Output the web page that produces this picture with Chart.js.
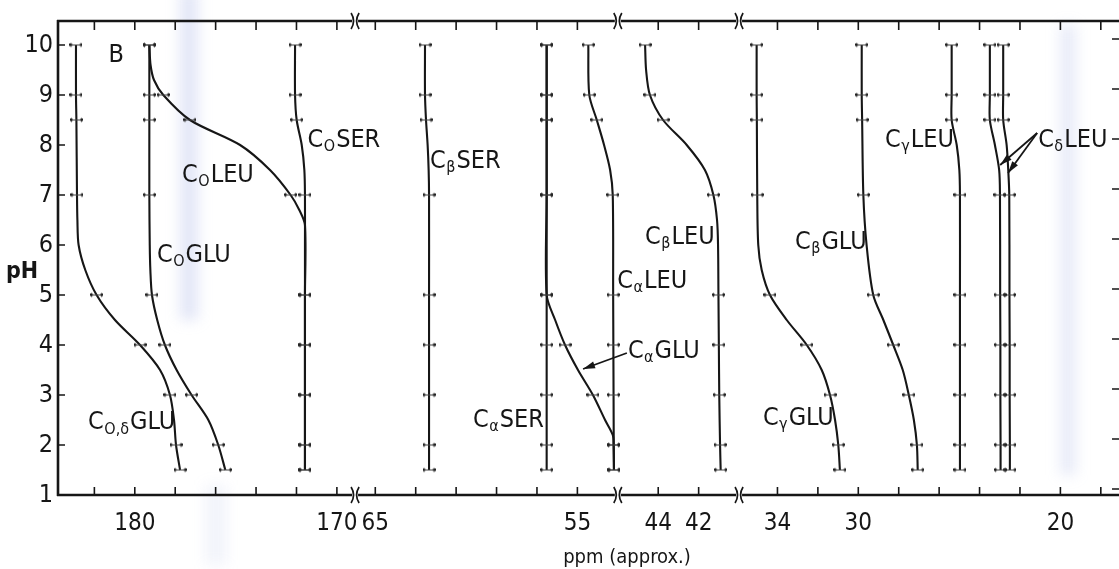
<!DOCTYPE html>
<html>
<head>
<meta charset="utf-8">
<script src="https://cdn.jsdelivr.net/npm/chart.js@4/dist/chart.umd.min.js"></script>
<style>
html,body{margin:0;padding:0;background:#fff;}
#wrap{position:relative;width:1119px;height:569px;}
</style>
</head>
<body>
<div id="wrap"><canvas id="c" width="1119" height="569"></canvas></div>
<script>
// ---------------- broken ppm axis ----------------
const axisSegments = [[183.8, 169.1], [66, 53], [46, 40], [35.9, 17.1]];
const xLabelTicks = [180, 170, 65, 55, 44, 42, 34, 30, 20];
const xMinorTicks = [182, 180, 178, 176, 174, 172, 170, 65, 63, 61, 59, 57, 55, 44, 42, 34, 32, 30, 28, 26, 24, 22, 20, 18];
const yTicks = [1, 2, 3, 4, 5, 6, 7, 8, 9, 10];
const measuredPH = [10, 9, 8.5, 7, 5, 4, 3, 2, 1.5];

// ---------------- series (pH, ppm) ----------------
const cOdGLU_pH  = [10, 9, 8.5, 7, 6.5, 6, 5.5, 5, 4.5, 4, 3.5, 3, 2.5, 2, 1.5];
const cOdGLU_ppm = [182.91, 182.91, 182.89, 182.86, 182.84, 182.78, 182.45, 181.89, 180.98, 179.74, 178.75, 178.26, 178.06, 177.96, 177.76];
const cOGLU_pH  = [10, 9, 8.5, 7, 6, 5.5, 5, 4.5, 4, 3.5, 3, 2.5, 2, 1.5];
const cOGLU_ppm = [179.28, 179.28, 179.28, 179.28, 179.26, 179.23, 179.15, 178.89, 178.51, 177.93, 177.19, 176.36, 175.87, 175.52];
const cOLEU_pH  = [10, 9.6, 9.3, 9, 8.5, 8, 7.5, 7, 6.7, 6.4, 5, 4, 3, 2, 1.5];
const cOLEU_ppm = [179.28, 179.22, 179.05, 178.59, 177.27, 174.79, 173.31, 172.29, 171.86, 171.58, 171.58, 171.58, 171.58, 171.58, 171.58];
const cOSER_pH  = [10, 9, 8.5, 8, 7.5, 7, 6, 5, 4, 3, 2, 1.5];
const cOSER_ppm = [172.07, 172.07, 171.99, 171.74, 171.61, 171.58, 171.58, 171.58, 171.58, 171.58, 171.58, 171.58];
const cbSER_pH  = [10, 9, 8.5, 8, 7.5, 7, 5, 4, 3, 2, 1.5];
const cbSER_ppm = [62.54, 62.54, 62.49, 62.41, 62.36, 62.34, 62.34, 62.34, 62.34, 62.34, 62.34];
const caSER_pH  = [10, 9, 8.5, 7, 5, 4, 3, 2, 1.5];
const caSER_ppm = [56.52, 56.52, 56.52, 56.52, 56.52, 56.52, 56.52, 56.52, 56.52];
const caGLU_pH  = [10, 9, 8.5, 7, 5, 4.5, 4, 3.5, 3, 2.5, 2.2, 2, 1.5];
const caGLU_ppm = [56.52, 56.52, 56.52, 56.52, 56.52, 56.1, 55.61, 54.97, 54.23, 53.63, 53.25, 53.21, 53.19];
const caLEU_pH  = [10, 9, 8.5, 8, 7.5, 7, 5, 4, 3, 2, 1.5];
const caLEU_ppm = [54.46, 54.41, 54.04, 53.68, 53.38, 53.25, 53.23, 53.22, 53.21, 53.2, 53.19];
const cbLEU_pH  = [10, 9.5, 9, 8.5, 8, 7.5, 7, 6.5, 6, 5, 4, 3, 2, 1.5];
const cbLEU_ppm = [44.65, 44.6, 44.41, 43.76, 42.59, 41.69, 41.27, 41.09, 41.04, 41.02, 41.0, 40.98, 40.94, 40.91];
const cgGLU_pH  = [10, 9, 8.5, 7, 6, 5.5, 5, 4.5, 4, 3.5, 3, 2.5, 2, 1.5];
const cgGLU_ppm = [35.03, 35.03, 35.02, 35.0, 34.95, 34.78, 34.37, 33.54, 32.55, 31.81, 31.4, 31.15, 30.99, 30.91];
const cbGLU_pH  = [10, 9, 8.5, 7, 6, 5, 4.5, 4, 3.5, 3, 2.5, 2, 1.5];
const cbGLU_ppm = [29.83, 29.83, 29.81, 29.75, 29.59, 29.26, 28.76, 28.27, 27.8, 27.5, 27.25, 27.1, 27.06];
const cgLEU_pH  = [10, 9, 8.5, 8, 7.5, 7, 5, 4, 3, 2, 1.5];
const cgLEU_ppm = [25.38, 25.38, 25.38, 25.13, 25.0, 24.97, 24.97, 24.97, 24.97, 24.97, 24.97];
const cdLEUa_pH  = [10, 9, 8.5, 8, 7.5, 7, 5, 4, 3, 2, 1.5];
const cdLEUa_ppm = [23.49, 23.49, 23.49, 23.24, 23.03, 22.99, 22.98, 22.97, 22.97, 22.96, 22.96];
const cdLEUb_pH  = [10, 9, 8.5, 8, 7.5, 7, 5, 4, 3, 2, 1.5];
const cdLEUb_ppm = [22.83, 22.83, 22.83, 22.66, 22.58, 22.53, 22.52, 22.51, 22.51, 22.5, 22.5];

const seriesNames = ['CO,δGLU', 'COGLU', 'COLEU', 'COSER', 'CβSER', 'CαSER', 'CαGLU', 'CαLEU', 'CβLEU', 'CγGLU', 'CβGLU', 'CγLEU', 'CδLEU', 'CδLEU'];
const seriesPH  = [cOdGLU_pH, cOGLU_pH, cOLEU_pH, cOSER_pH, cbSER_pH, caSER_pH, caGLU_pH, caLEU_pH, cbLEU_pH, cgGLU_pH, cbGLU_pH, cgLEU_pH, cdLEUa_pH, cdLEUb_pH];
const seriesPPM = [cOdGLU_ppm, cOGLU_ppm, cOLEU_ppm, cOSER_ppm, cbSER_ppm, caSER_ppm, caGLU_ppm, caLEU_ppm, cbLEU_ppm, cgGLU_ppm, cbGLU_ppm, cgLEU_ppm, cdLEUa_ppm, cdLEUb_ppm];

// ---------------- curve labels: C + subscript + residue ----------------
const labelSub  = ['O,δ', 'O', 'O', 'O', 'β', 'α', 'α', 'α', 'β', 'γ', 'β', 'γ', 'δ'];
const labelRes  = ['GLU', 'GLU', 'LEU', 'SER', 'SER', 'SER', 'GLU', 'LEU', 'LEU', 'GLU', 'GLU', 'LEU', 'LEU'];
const labelPPM  = [182.31, 178.9, 177.66, 171.45, 62.29, 60.16, 45.5, 53.03, 44.65, 34.72, 33.13, 28.68, 21.1];
const labelPH   = [2.45, 5.8, 7.4, 8.1, 7.68, 2.5, 3.88, 5.28, 6.16, 2.54, 6.06, 8.1, 8.1];
// arrows: [fromPPM, fromPH, toPPM, toPH]
const arrows = [[45.55, 3.84, 54.72, 3.52], [21.15, 8.24, 22.98, 7.6], [21.15, 8.24, 22.59, 7.44]];

// ---------------- broken linear scale ----------------
class BrokenLinearScale extends Chart.LinearScale {
  _total() { return axisSegments.reduce((s, g) => s + g[0] - g[1], 0); }
  buildTicks() { return xLabelTicks.map(v => ({ value: v })); }
  getPixelForValue(v) {
    const total = this._total();
    let acc = 0;
    for (const [a, b] of axisSegments) {
      if (v >= b) return this.left + (acc + Math.max(0, a - v)) / total * this.width;
      acc += a - b;
    }
    return this.right;
  }
  getValueForPixel(p) {
    let d = (p - this.left) / this.width * this._total();
    for (const [a, b] of axisSegments) {
      if (d <= a - b) return a - d;
      d -= a - b;
    }
    return axisSegments[axisSegments.length - 1][1];
  }
}
BrokenLinearScale.id = 'brokenLinear';
BrokenLinearScale.defaults = Chart.LinearScale.defaults;
Chart.register(BrokenLinearScale);

// ---------------- marker glyph ----------------
function makeMarker() {
  const m = document.createElement('canvas');
  m.width = 13; m.height = 7;
  const g = m.getContext('2d');
  g.strokeStyle = '#444'; g.lineWidth = 1;
  g.beginPath(); g.moveTo(1.5, 3.5); g.lineTo(11.5, 3.5); g.stroke();
  g.beginPath(); g.moveTo(1.5, 1.5); g.lineTo(1.5, 5.5); g.moveTo(11.5, 1.5); g.lineTo(11.5, 5.5); g.stroke();
  g.fillStyle = '#222';
  g.fillRect(0, 2, 2.5, 2.5); g.fillRect(10.5, 2, 2.5, 2.5);
  return m;
}
const marker = makeMarker();

const FONT = "'DejaVu Sans Condensed', 'Liberation Sans Narrow', 'Liberation Sans', sans-serif";
const INK = '#161616';

const datasets = seriesNames.map((name, i) => ({
  label: name,
  data: seriesPH[i].map((p, k) => ({ x: seriesPPM[i][k], y: p })),
  borderColor: INK,
  borderWidth: 2.1,
  fill: false,
  tension: 0.3,
  pointStyle: marker,
  pointRadius: ctx => (ctx.raw && measuredPH.includes(ctx.raw.y)) ? 5 : 0,
  pointHoverRadius: 0,
  clip: false
}));

// ---------------- decoration plugin ----------------
function breakMark(c, bx, y) {
  c.beginPath();
  c.moveTo(bx - 4, y - 8); c.quadraticCurveTo(bx + 1, y, bx - 4, y + 8);
  c.moveTo(bx + 4, y - 8); c.quadraticCurveTo(bx - 1, y, bx + 4, y + 8);
  c.stroke();
}
function drawLabel(c, x, y, sub, res) {
  c.textBaseline = 'middle'; c.textAlign = 'left';
  c.font = '25px ' + FONT;
  c.fillText('C', x, y);
  let w = c.measureText('C').width;
  c.font = '16px ' + FONT;
  c.fillText(sub, x + w + 0.5, y + 7);
  w += c.measureText(sub).width + 1.5;
  c.font = '25px ' + FONT;
  c.fillText(res, x + w, y);
}

const decor = {
  id: 'decor',
  beforeDraw(chart) {
    const c = chart.ctx;
    c.save();
    c.fillStyle = '#fff';
    c.fillRect(0, 0, chart.width, chart.height);
    c.filter = 'blur(7px)';
    const bands = [[180, -10, 18, 330, 0.28], [1060, 25, 16, 450, 0.22], [205, 485, 22, 80, 0.12]];
    for (const [bx, by, bw, bh, al] of bands) {
      c.fillStyle = 'rgba(150,165,225,' + al + ')';
      c.fillRect(bx, by, bw, bh);
    }
    c.filter = 'none';
    c.restore();
  },
  afterDatasetsDraw(chart) {
    const c = chart.ctx;
    const xs = chart.scales.x, ys = chart.scales.y;
    const { left, right, top, bottom } = chart.chartArea;
    c.save();
    c.strokeStyle = INK; c.fillStyle = INK;
    c.lineCap = 'butt';
    const breaks = axisSegments.slice(0, -1).map(s => xs.getPixelForValue(s[1]));
    c.lineWidth = 2.4;
    for (const yy of [top, bottom]) {
      let x0 = left - 1;
      c.beginPath();
      for (const b of breaks) { c.moveTo(x0, yy); c.lineTo(b - 3, yy); x0 = b + 3; }
      c.moveTo(x0, yy); c.lineTo(right, yy);
      c.stroke();
    }
    c.lineWidth = 1.7;
    for (const b of breaks) { breakMark(c, b, top); breakMark(c, b, bottom); }
    c.lineWidth = 2.6;
    c.beginPath(); c.moveTo(left, top - 1); c.lineTo(left, bottom + 1); c.stroke();
    c.lineWidth = 1.6;
    c.beginPath();
    for (const v of xMinorTicks) {
      const px = xs.getPixelForValue(v);
      c.moveTo(px, bottom); c.lineTo(px, bottom - 8);
      c.moveTo(px, top); c.lineTo(px, top + 9);
    }
    for (const v of yTicks) {
      const py = ys.getPixelForValue(v);
      c.moveTo(left, py); c.lineTo(left + 7, py);
      c.moveTo(right, py - 6); c.lineTo(right - 7, py - 6);
    }
    c.stroke();
    for (let i = 0; i < labelSub.length; i++) {
      drawLabel(c, xs.getPixelForValue(labelPPM[i]), ys.getPixelForValue(labelPH[i]), labelSub[i], labelRes[i]);
    }
    c.lineWidth = 1.8;
    for (const [fx, fy, tx, ty] of arrows) {
      const x1 = xs.getPixelForValue(fx), y1 = ys.getPixelForValue(fy);
      const x2 = xs.getPixelForValue(tx), y2 = ys.getPixelForValue(ty);
      const ang = Math.atan2(y2 - y1, x2 - x1);
      c.beginPath(); c.moveTo(x1, y1); c.lineTo(x2, y2); c.stroke();
      c.beginPath();
      c.moveTo(x2, y2);
      c.lineTo(x2 - 12 * Math.cos(ang) + 3.5 * Math.sin(ang), y2 - 12 * Math.sin(ang) - 3.5 * Math.cos(ang));
      c.lineTo(x2 - 12 * Math.cos(ang) - 3.5 * Math.sin(ang), y2 - 12 * Math.sin(ang) + 3.5 * Math.cos(ang));
      c.closePath(); c.fill();
    }
    c.font = '25px ' + FONT;
    c.textAlign = 'left'; c.textBaseline = 'middle';
    c.fillText('B', xs.getPixelForValue(181.3), ys.getPixelForValue(9.8));
    c.font = 'bold 23px ' + FONT;
    c.textAlign = 'center';
    c.fillText('pH', left - 36, ys.getPixelForValue(5.45));
    c.font = '20px ' + FONT;
    c.textBaseline = 'alphabetic';
    c.fillText('ppm (approx.)', 627, chart.height - 6);
    c.restore();
  }
};

new Chart(document.getElementById('c'), {
  type: 'line',
  data: { datasets },
  plugins: [decor],
  options: {
    indexAxis: 'y',
    responsive: false,
    animation: false,
    events: [],
    layout: { autoPadding: false, padding: { top: 21, right: 0, left: 0, bottom: 0 } },
    plugins: { legend: { display: false }, tooltip: { enabled: false } },
    scales: {
      x: {
        type: 'brokenLinear',
        position: 'bottom',
        min: 17.1, max: 183.8,
        grid: { display: false, drawTicks: false },
        border: { display: false },
        ticks: {
          autoSkip: false, maxRotation: 0, padding: 14,
          color: INK, font: { family: FONT, size: 24 },
          callback: v => String(v)
        },
        afterFit: s => { s.height = 74; s.paddingLeft = 0; s.paddingRight = 0; }
      },
      y: {
        type: 'linear',
        position: 'left',
        min: 1, max: 10.48,
        grid: { display: false, drawTicks: false },
        border: { display: false },
        afterBuildTicks: s => { s.ticks = yTicks.map(v => ({ value: v })); },
        ticks: {
          autoSkip: false, padding: 5,
          color: INK, font: { family: FONT, size: 25 },
          callback: v => String(v)
        },
        afterFit: s => { s.width = 58; s.paddingTop = 0; s.paddingBottom = 0; }
      }
    }
  }
});
</script>
</body>
</html>
